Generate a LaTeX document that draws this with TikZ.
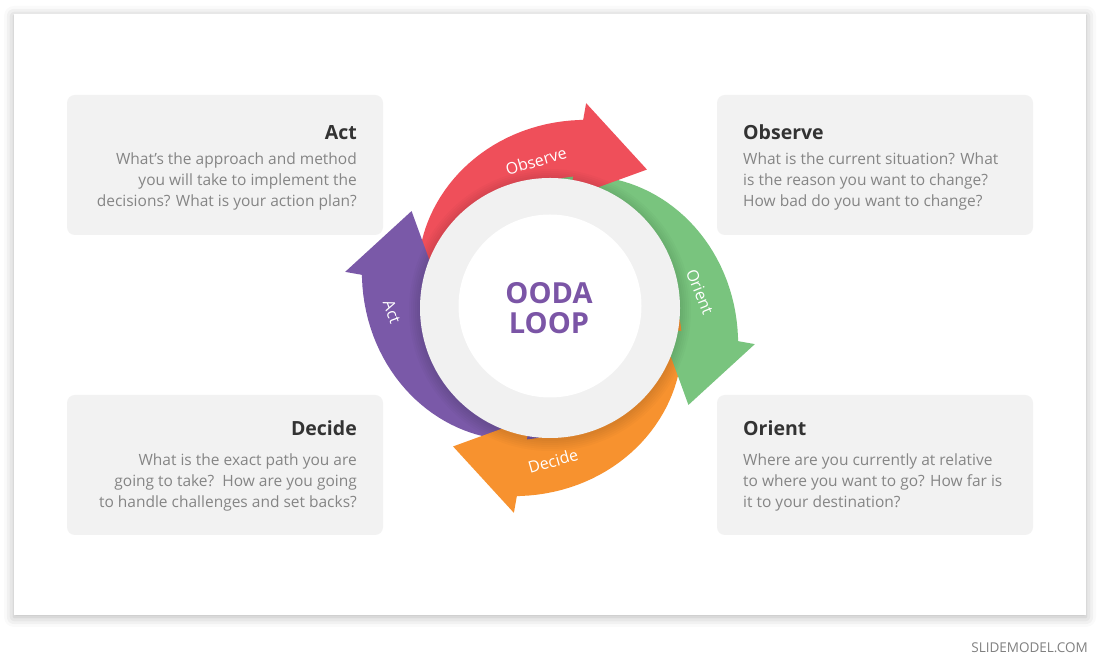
\documentclass[tikz,border=0pt]{standalone}
\usepackage{fontspec}
\setmainfont{Open Sans}
\usetikzlibrary{shadows.blur}

\definecolor{obsred}{HTML}{EF4F5A}
\definecolor{origreen}{HTML}{79C47E}
\definecolor{decorange}{HTML}{F7922F}
\definecolor{actpurple}{HTML}{7A59A8}
\definecolor{ringgray}{HTML}{F1F1F1}
\definecolor{boxgray}{HTML}{F2F2F2}
\definecolor{titlegray}{HTML}{333333}
\definecolor{bodygray}{HTML}{858585}
\definecolor{oodapurple}{HTML}{7B55A6}

\tikzset{
  infobox/.style={fill=boxgray, rounded corners=8pt, minimum width=316pt, minimum height=140pt, inner sep=0pt},
  boxtitle/.style={font=\fontsize{19.5}{23}\selectfont\bfseries, text=titlegray, inner sep=0pt},
  boxtext/.style={font=\fontsize{15.5}{21}\selectfont, text=bodygray, inner sep=0pt},
  looplabel/.style={font=\fontsize{16}{19}\selectfont, text=white, inner sep=0pt},
}

\begin{document}
\begin{tikzpicture}[x=1pt,y=1pt]
  \useasboundingbox (0,0) rectangle (1100,671);
  % slide
  \fill[white, blur shadow={shadow xshift=0pt, shadow yshift=-2pt, shadow blur radius=10pt, shadow opacity=30}] (14,56) rectangle (1086,657);

  % info boxes
  \node[infobox] (actbox) at (225,506) {};
  \node[infobox] (obsbox) at (875,506) {};
  \node[infobox] (decbox) at (225,206) {};
  \node[infobox] (oribox) at (875,206) {};

  \node[boxtitle, anchor=base east] (acttitle) at (357,531) {Act};
  \node[boxtext, anchor=north east, align=right] (acttext) at (357,518.5)
    {What’s the approach and method\\ you will take to implement the\\ decisions? What is your action plan?};
  \node[boxtitle, anchor=base west] (obstitle) at (743,531) {Observe};
  \node[boxtext, anchor=north west, align=left] (obstext) at (743,518.5)
    {What is the current situation? What\\ is the reason you want to change?\\ How bad do you want to change?};
  \node[boxtitle, anchor=base east] (dectitle) at (357,235) {Decide};
  \node[boxtext, anchor=north east, align=right] (dectext) at (357,217.5)
    {What is the exact path you are\\ going to take?\ \ How are you going\\ to handle challenges and set backs?};
  \node[boxtitle, anchor=base west] (orititle) at (743,235) {Orient};
  \node[boxtext, anchor=north west, align=left] (oritext) at (743,217.5)
    {Where are you currently at relative\\ to where you want to go? How far is\\ it to your destination?};

  % loop arrows: bodies first (tucked under the heads), then heads
  \begin{scope}[shift={(550,363)}]
    \foreach \rot/\col in {0/obsred, -90/origreen, -180/decorange, 90/actpurple}
      \fill[\col, rotate=\rot] (76:112) -- (76:193.5)
        -- plot[domain=76:175, samples=40] (\x:{191-0.64*(\x-80)})
        -- (175:112) arc[start angle=175, end angle=76, radius=112] -- cycle;
    \foreach \rot/\col in {0/obsred, -90/origreen, -180/decorange, 90/actpurple}
      \fill[\col, rotate=\rot] (80:208) -- (55:169) -- (80:112) -- cycle;
    % soft shadow of the ring
    \foreach \r in {131,133,...,141}
      \fill[black, opacity=0.02] (0,-2) circle[radius=\r];
    \fill[ringgray] (0,0) circle[radius=130];
    \fill[white] (0,2) circle[radius=91.5];
  \end{scope}

  \node[looplabel, rotate=16] (obslabel) at (536,510) {Observe};
  \node[looplabel, rotate=-68] (orilabel) at (700,379) {Orient};
  \node[looplabel, rotate=16] (declabel) at (553,210) {Decide};
  \node[looplabel, rotate=-70] (actlabel) at (392,359) {Act};

  \node[font=\fontsize{29}{30}\selectfont\bfseries, text=oodapurple, align=center, inner sep=0pt] (ooda) at (549,363) {OODA\\ LOOP};

  \node[font=\fontsize{13.5}{16}\selectfont, text=black!50, anchor=base east, inner sep=0pt] (brand) at (1088,18) {SLIDEMODEL.COM};
\end{tikzpicture}
\end{document}
